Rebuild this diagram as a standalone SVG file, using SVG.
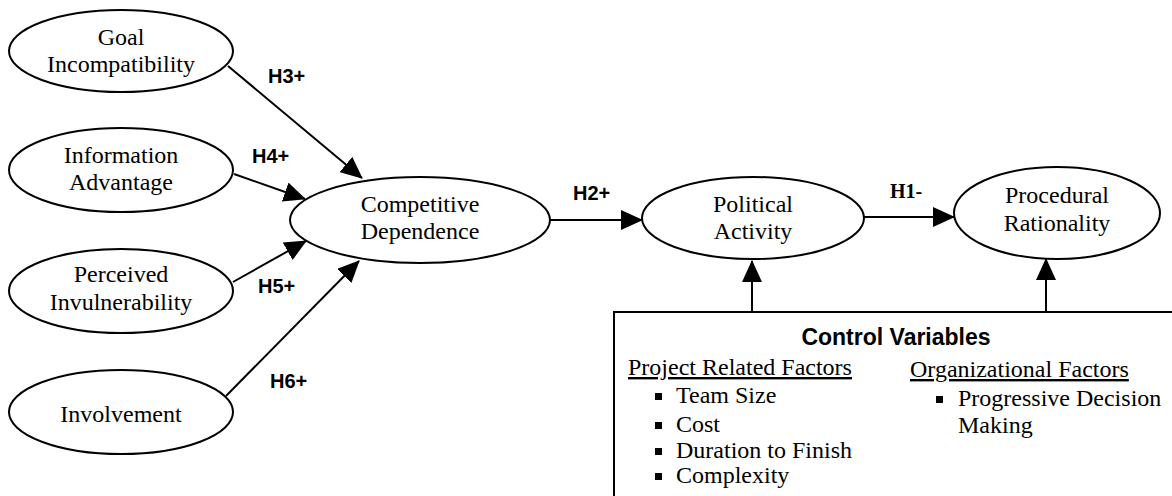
<svg xmlns="http://www.w3.org/2000/svg" width="1172" height="496" viewBox="0 0 1172 496">
<style>
.node{fill:#fff;stroke:#000;stroke-width:2}
.nt{font-family:"Liberation Serif","Times New Roman",serif;font-size:24px;fill:#000;text-anchor:middle}
.lbl{font-family:"Liberation Sans",Arial,sans-serif;font-size:20px;font-weight:bold;fill:#000}
.lbls{font-family:"Liberation Serif","Times New Roman",serif;font-size:20px;font-weight:bold;fill:#000}
.edge{stroke:#000;stroke-width:2;fill:none;marker-end:url(#ah)}
.bt{font-family:"Liberation Serif","Times New Roman",serif;font-size:24px;fill:#000}
.ttl{font-family:"Liberation Sans",Arial,sans-serif;font-size:23px;font-weight:bold;fill:#000;text-anchor:middle}
</style>
<defs>
<marker id="ah" viewBox="0 0 22 20" refX="21" refY="10" markerWidth="22" markerHeight="20" markerUnits="userSpaceOnUse" orient="auto">
<path d="M0,0 L22,10 L0,20 z" fill="#000"/>
</marker>
</defs>
<rect width="1172" height="496" fill="#fff"/>

<g id="connectors">
<line class="edge" x1="228" y1="66" x2="362" y2="178"/>
<line class="edge" x1="234" y1="174" x2="305" y2="199"/>
<line class="edge" x1="233" y1="282" x2="306" y2="241"/>
<line class="edge" x1="226" y1="396" x2="359" y2="261"/>
<line class="edge" x1="550" y1="220" x2="642" y2="220"/>
<line class="edge" x1="864" y1="217" x2="954" y2="217"/>
<line class="edge" x1="752" y1="312" x2="752" y2="261"/>
<line class="edge" x1="1046" y1="312" x2="1046" y2="259"/>
<text class="lbl" x="268" y="83">H3+</text>
<text class="lbl" x="252" y="163">H4+</text>
<text class="lbl" x="258" y="293">H5+</text>
<text class="lbl" x="270" y="388">H6+</text>
<text class="lbl" x="573" y="200">H2+</text>
<text class="lbls" x="890" y="198">H1-</text>
</g>

<g id="goal">
<ellipse class="node" cx="121" cy="51" rx="112" ry="41"/>
<text class="nt" x="121" y="45">Goal</text>
<text class="nt" x="121" y="72">Incompatibility</text>
</g>
<g id="info">
<ellipse class="node" cx="121" cy="170" rx="112" ry="42"/>
<text class="nt" x="121" y="163">Information</text>
<text class="nt" x="121" y="190">Advantage</text>
</g>
<g id="perceived">
<ellipse class="node" cx="121" cy="291" rx="112" ry="42"/>
<text class="nt" x="121" y="282">Perceived</text>
<text class="nt" x="121" y="310">Invulnerability</text>
</g>
<g id="involvement">
<ellipse class="node" cx="121" cy="412" rx="112" ry="42"/>
<text class="nt" x="121" y="422">Involvement</text>
</g>
<g id="competitive">
<ellipse class="node" cx="420" cy="220" rx="130" ry="43"/>
<text class="nt" x="420" y="212">Competitive</text>
<text class="nt" x="420" y="239">Dependence</text>
</g>
<g id="political">
<ellipse class="node" cx="753" cy="218" rx="111" ry="41"/>
<text class="nt" x="753" y="212">Political</text>
<text class="nt" x="753" y="239">Activity</text>
</g>
<g id="procedural">
<ellipse class="node" cx="1057" cy="213" rx="103" ry="46"/>
<text class="nt" x="1057" y="203">Procedural</text>
<text class="nt" x="1057" y="231">Rationality</text>
</g>

<g id="controls">
<rect x="614" y="312" width="600" height="250" fill="#fff" stroke="#000" stroke-width="2"/>
<text class="ttl" x="896" y="345">Control Variables</text>
<text class="bt" x="628" y="375" text-decoration="underline">Project Related Factors</text>
<rect x="655" y="393" width="7" height="7" fill="#000"/>
<text class="bt" x="676" y="403">Team Size</text>
<rect x="655" y="422" width="7" height="7" fill="#000"/>
<text class="bt" x="676" y="432">Cost</text>
<rect x="655" y="448" width="7" height="7" fill="#000"/>
<text class="bt" x="676" y="458">Duration to Finish</text>
<rect x="655" y="473" width="7" height="7" fill="#000"/>
<text class="bt" x="676" y="483">Complexity</text>
<text class="bt" x="910" y="377" text-decoration="underline">Organizational Factors</text>
<rect x="936" y="396" width="7" height="7" fill="#000"/>
<text class="bt" x="958" y="406">Progressive Decision</text>
<text class="bt" x="958" y="433">Making</text>
</g>
</svg>
